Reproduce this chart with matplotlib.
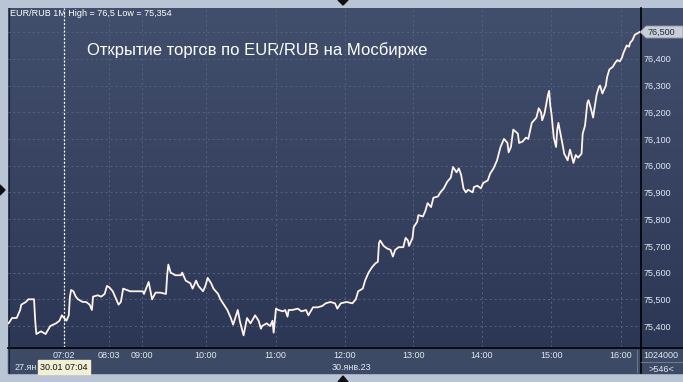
import numpy as np
import matplotlib.pyplot as plt
from matplotlib.colors import LinearSegmentedColormap
from matplotlib.patches import Polygon, Rectangle

plt.rcParams['font.family'] = ['Liberation Sans', 'DejaVu Sans']

# ---- data (1-minute bars, index 0..545) ----
bar_idx = [0, 3, 7, 10, 11, 15, 17, 22, 23, 24, 28, 32, 36, 41, 44, 46, 48, 50, 52, 53,
           54, 56, 58, 60, 64, 67, 70, 72, 73, 77, 80, 83, 85, 87, 90, 93, 95, 97, 99, 102,
           105, 111, 116, 117, 121, 124, 127, 131, 136, 137, 138, 140, 144, 149, 150, 153, 157, 159, 162, 164,
           168, 170, 172, 175, 177, 181, 183, 186, 189, 192, 194, 198, 200, 203, 206, 209, 213, 216, 218, 219,
           223, 226, 228, 229, 231, 233, 237, 239, 241, 242, 245, 250, 253, 257, 259, 263, 267, 271, 274, 278,
           282, 284, 287, 292, 297, 300, 302, 306, 308, 311, 314, 317, 319, 320, 321, 324, 327, 330, 332, 334,
           337, 341, 343, 345, 346, 349, 350, 353, 354, 358, 360, 362, 365, 367, 371, 373, 376, 379, 382, 384,
           387, 389, 391, 393, 395, 397, 401, 402, 405, 408, 410, 414, 416, 419, 422, 425, 428, 431, 432, 434,
           436, 440, 441, 444, 447, 449, 452, 454, 456, 458, 460, 461, 463, 466, 467, 468, 469, 471, 473, 474,
           475, 477, 479, 480, 483, 485, 486, 488, 490, 492, 495, 496, 498, 500, 501, 503, 505, 506, 508, 510,
           511, 513, 516, 517, 519, 522, 524, 526, 528, 530, 531, 534, 536, 537, 539, 541, 544, 545]
price = [75.41, 75.43, 75.43, 75.46, 75.48, 75.49, 75.50, 75.50, 75.42, 75.37, 75.38, 75.37, 75.40, 75.41, 75.42, 75.44, 75.43, 75.42, 75.44, 75.51,
         75.535, 75.53, 75.51, 75.50, 75.49, 75.49, 75.48, 75.46, 75.51, 75.515, 75.51, 75.52, 75.55, 75.545, 75.53, 75.50, 75.48, 75.49, 75.54, 75.535,
         75.53, 75.53, 75.53, 75.52, 75.565, 75.50, 75.525, 75.525, 75.52, 75.59, 75.63, 75.60, 75.59, 75.59, 75.60, 75.57, 75.56, 75.54, 75.57, 75.55,
         75.53, 75.55, 75.58, 75.56, 75.54, 75.52, 75.50, 75.48, 75.46, 75.43, 75.405, 75.46, 75.415, 75.365, 75.43, 75.41, 75.44, 75.42, 75.39, 75.40,
         75.41, 75.40, 75.42, 75.375, 75.465, 75.46, 75.455, 75.46, 75.435, 75.46, 75.46, 75.465, 75.455, 75.46, 75.44, 75.47, 75.47, 75.475, 75.485, 75.49,
         75.485, 75.465, 75.485, 75.49, 75.485, 75.50, 75.53, 75.54, 75.57, 75.60, 75.62, 75.635, 75.64, 75.71, 75.72, 75.70, 75.69, 75.685, 75.66, 75.685,
         75.695, 75.695, 75.73, 75.72, 75.70, 75.73, 75.77, 75.79, 75.815, 75.81, 75.83, 75.86, 75.845, 75.88, 75.885, 75.90, 75.915, 75.94, 75.955, 75.995,
         75.975, 75.99, 75.965, 75.915, 75.90, 75.91, 75.90, 75.92, 75.925, 75.915, 75.935, 75.945, 75.97, 75.99, 76.02, 76.07, 76.10, 76.085, 76.05, 76.07,
         76.135, 76.12, 76.085, 76.09, 76.105, 76.10, 76.16, 76.17, 76.18, 76.215, 76.20, 76.17, 76.195, 76.265, 76.28, 76.225, 76.195, 76.105, 76.07, 76.135,
         76.16, 76.115, 76.07, 76.045, 76.02, 76.06, 76.045, 76.01, 76.04, 76.03, 76.045, 76.12, 76.15, 76.235, 76.245, 76.215, 76.18, 76.21, 76.265, 76.295,
         76.30, 76.27, 76.30, 76.33, 76.36, 76.37, 76.385, 76.395, 76.39, 76.405, 76.42, 76.45, 76.445, 76.46, 76.47, 76.49, 76.497, 76.50]

tick_bars = [48, 86.4, 114.9, 170.2, 230.7, 290.3, 349.5, 409, 469, 528.7]
tick_labels = ['07:02', '08:03', '09:00', '10:00', '11:00', '12:00', '13:00', '14:00', '15:00', '16:00']
price_ticks = [75.4, 75.5, 75.6, 75.7, 75.8, 75.9, 76.0, 76.1, 76.2, 76.3, 76.4]
price_labels = ['75,400', '75,500', '75,600', '75,700', '75,800', '75,900',
                '76,000', '76,100', '76,200', '76,300', '76,400']
last_label = '76,500'
last_price = 76.5
cursor_bar = 48
n_bars = 546
head = 'EUR/RUB 1M High = 76,5 Low = 75,354'
title = 'Открытие торгов по EUR/RUB на Мосбирже'

W, H = 683, 382
fig = plt.figure(figsize=(W / 100, H / 100), dpi=100)

# background / frame in pixel coordinates
bg = fig.add_axes([0, 0, 1, 1])
bg.set_xlim(0, W)
bg.set_ylim(H, 0)
bg.axis('off')
bg.add_patch(Rectangle((0, 0), W, H, color='#b9c5d4', zorder=0))
grad = LinearSegmentedColormap.from_list('bgc', ['#424f6c', '#2c3755'])
bg.imshow(np.linspace(0, 1, 256).reshape(-1, 1), cmap=grad, aspect='auto',
          extent=(8, W, 347, 8), zorder=1)
bg.add_patch(Rectangle((8, 347), W - 8, 26, color='#3d4a66', zorder=1))
bg.plot([8, W], [347.5, 347.5], color='k', lw=1.2, zorder=3)
bg.plot([640.5, 640.5], [8, 373], color='k', lw=1.2, zorder=3)
bg.plot([8.5, 8.5], [8, 373], color='#1a2233', lw=0.8, zorder=3)
bg.plot([637, 637], [350, 372], color='#6c7890', lw=0.8, zorder=3)
bg.plot([641, W], [362, 362], color='#6c7890', lw=0.8, zorder=3)

# little triangles on the frame
for pts in ([(338, 0), (348, 0), (343, 5)], [(0, 185), (0, 195), (5, 190)],
            [(338, 382), (348, 382), (343, 376)]):
    bg.add_patch(Polygon(pts, closed=True, color='#101010', zorder=4))

txt = '#e2e8f2'
bg.text(10, 14, head, color='white', fontsize=6.5, va='center', ha='left', zorder=5)
bg.text(87, 50, title, color='white', fontsize=12, va='center', ha='left', zorder=5)
bg.text(15, 367, '27.ян', color=txt, fontsize=6.5, va='center', ha='left', zorder=4)
bg.add_patch(Rectangle((38, 360), 52, 14, color='#f2f0d4', zorder=5))
bg.text(40, 367, '30.01 07:04', color='#111111', fontsize=6.5, va='center', ha='left', zorder=6)
bg.text(332, 367, '30.янв.23', color=txt, fontsize=6.5, va='center', ha='left', zorder=5)
bg.text(643, 355, '1024000', color=txt, fontsize=6.5, va='center', ha='left', zorder=5)
bg.text(661, 369, '>%d<' % n_bars, color=txt, fontsize=6.5, va='center', ha='center', zorder=5)

# main price axes
ax = fig.add_axes([8 / W, (H - 347) / H, 632 / W, 339 / H])
ax.patch.set_alpha(0)
ax.set_xlim(-0.5, n_bars - 0.5)
ax.set_ylim(75.3215, 76.59)
for s in ax.spines.values():
    s.set_visible(False)

ax.set_xticks(tick_bars)
ax.set_xticklabels(tick_labels)
ax.set_yticks(price_ticks)
ax.set_yticklabels(price_labels)
ax.yaxis.tick_right()
ax.tick_params(axis='both', length=0, labelsize=6.5, labelcolor=txt)
ax.tick_params(axis='x', pad=3)
ax.tick_params(axis='y', pad=2.5)
ax.grid(True, color='#56637f', lw=0.7, ls=(0, (2, 3)))
ax.axhline(last_price, color='#56637f', lw=0.7, ls=(0, (2, 3)))

ax.axvline(cursor_bar, color='white', lw=0.9, ls=(0, (1.5, 1.5)), zorder=3)
ax.plot(bar_idx, price, color='#fff3ec', lw=1.3, zorder=4)

# last price tag on the right scale
y_tag = 32
bg.add_patch(Polygon([(640, y_tag), (646, y_tag - 6), (W, y_tag - 6), (W, y_tag + 6), (646, y_tag + 6)],
                     closed=True, facecolor='#c9ced6', edgecolor='#8c96a6', lw=0.6, zorder=6))
bg.text(648, y_tag, last_label, color='#1e2a40', fontsize=6.5, va='center', ha='left', zorder=7)

fig.savefig('out.png', dpi=100)
